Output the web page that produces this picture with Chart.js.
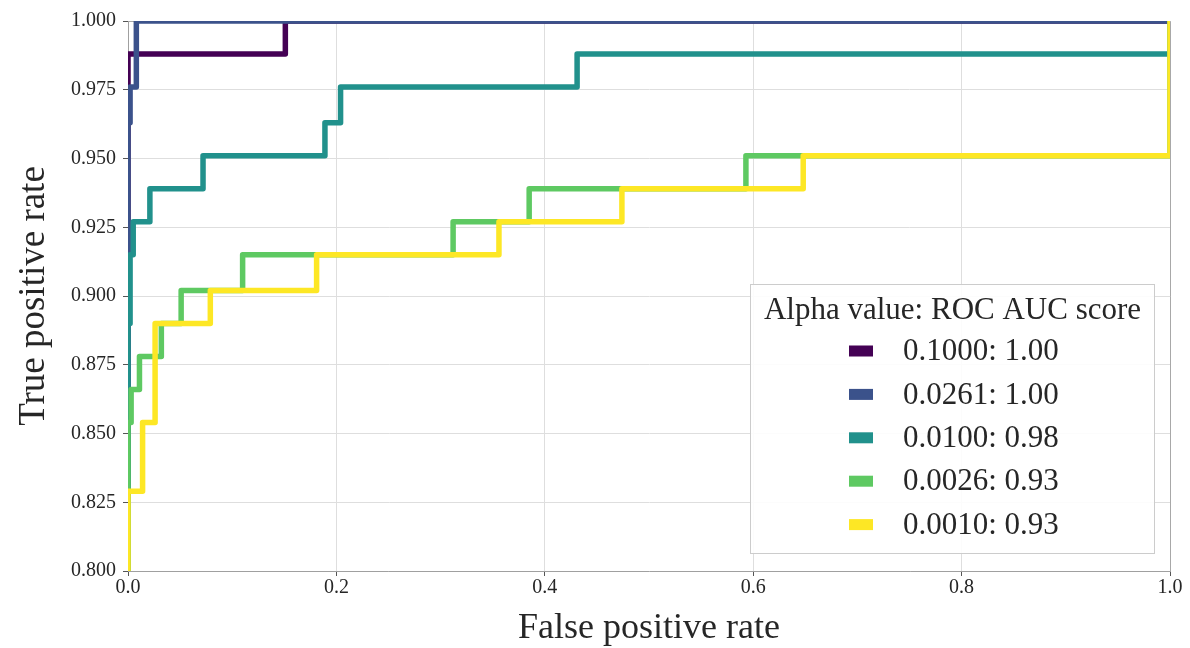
<!DOCTYPE html>
<html>
<head>
<meta charset="utf-8">
<script src="https://cdn.jsdelivr.net/npm/chart.js@4.4.1/dist/chart.umd.min.js"></script>
<style>
  html, body { margin: 0; padding: 0; background: #ffffff; }
  #wrap { width: 1190px; height: 648px; position: relative; }
</style>
</head>
<body>
<div id="wrap"><canvas id="c" width="1190" height="648"></canvas></div>
<script>
// ---- data ----
const legendTitle = 'Alpha value: ROC AUC score';
const seriesLabels = ['0.1000: 1.00', '0.0261: 1.00', '0.0100: 0.98', '0.0026: 0.93', '0.0010: 0.93'];
const seriesColors = ['#440154', '#3b528b', '#21918c', '#5ec962', '#fde725'];

const fpr_a1000 = [0, 0, 0.151, 0.151, 1];
const tpr_a1000 = [0, 0.988, 0.988, 1, 1];

const fpr_a0261 = [0, 0, 0.002, 0.002, 0.008, 0.008, 1];
const tpr_a0261 = [0, 0.963, 0.963, 0.976, 0.976, 1, 1];

const fpr_a0100 = [0, 0, 0.002, 0.002, 0.005, 0.005, 0.021, 0.021, 0.072, 0.072, 0.189, 0.189, 0.204, 0.204, 0.431, 0.431, 1, 1];
const tpr_a0100 = [0, 0.890, 0.890, 0.915, 0.915, 0.927, 0.927, 0.939, 0.939, 0.951, 0.951, 0.963, 0.963, 0.976, 0.976, 0.988, 0.988, 1];

const fpr_a0026 = [0, 0, 0.003, 0.003, 0.011, 0.011, 0.032, 0.032, 0.051, 0.051, 0.110, 0.110, 0.312, 0.312, 0.385, 0.385, 0.593, 0.593, 1, 1];
const tpr_a0026 = [0, 0.854, 0.854, 0.866, 0.866, 0.878, 0.878, 0.890, 0.890, 0.902, 0.902, 0.915, 0.915, 0.927, 0.927, 0.939, 0.939, 0.951, 0.951, 1];

const fpr_a0010 = [0, 0, 0.014, 0.014, 0.026, 0.026, 0.079, 0.079, 0.181, 0.181, 0.356, 0.356, 0.474, 0.474, 0.648, 0.648, 1, 1];
const tpr_a0010 = [0, 0.829, 0.829, 0.854, 0.854, 0.890, 0.890, 0.902, 0.902, 0.915, 0.915, 0.927, 0.927, 0.939, 0.939, 0.951, 0.951, 1];

const xTickValues = [0.0, 0.2, 0.4, 0.6, 0.8, 1.0];
const yTickValues = [0.800, 0.825, 0.850, 0.875, 0.900, 0.925, 0.950, 0.975, 1.000];
const xTitle = 'False positive rate';
const yTitle = 'True positive rate';

// ---- chart ----
const FONT = "'Liberation Serif', 'Times New Roman', serif";
const TEXT = '#262626';
const fprs = [fpr_a1000, fpr_a0261, fpr_a0100, fpr_a0026, fpr_a0010];
const tprs = [tpr_a1000, tpr_a0261, tpr_a0100, tpr_a0026, tpr_a0010];

const datasets = seriesLabels.map((lab, i) => ({
  label: lab,
  data: fprs[i].map((x, k) => ({ x: x, y: tprs[i][k] })),
  borderColor: seriesColors[i],
  backgroundColor: seriesColors[i],
  borderWidth: 5.5,
  pointRadius: 0,
  tension: 0,
  fill: false,
  clip: 0,
  borderJoinStyle: 'round',
  borderCapStyle: 'butt',
  order: seriesLabels.length - i   // later series drawn on top
}));

const spinesPlugin = {
  id: 'spines',
  beforeDatasetsDraw(chart) {
    const { ctx, chartArea: a } = chart;
    ctx.save();
    ctx.strokeStyle = '#a8a8a8';
    ctx.lineWidth = 1;
    ctx.beginPath();
    ctx.moveTo(a.left, a.top + 0.5);
    ctx.lineTo(a.right + 0.5, a.top + 0.5);
    ctx.lineTo(a.right + 0.5, a.bottom);
    ctx.stroke();
    ctx.restore();
  }
};

const legendPlugin = {
  id: 'rocLegend',
  afterDatasetsDraw(chart) {
    const ctx = chart.ctx;
    const bx = 750.5, by = 284.5, bw = 404, bh = 269;
    ctx.save();
    ctx.fillStyle = 'rgba(255,255,255,0.9)';
    ctx.fillRect(bx, by, bw, bh);
    ctx.strokeStyle = '#cccccc';
    ctx.lineWidth = 1;
    ctx.strokeRect(bx, by, bw, bh);
    ctx.fillStyle = TEXT;
    ctx.font = '31px ' + FONT;
    ctx.textAlign = 'center';
    ctx.textBaseline = 'middle';
    ctx.fillText(legendTitle, bx + bw / 2, 311);
    const y0 = 351, dy = 43.4;
    seriesLabels.forEach((lab, i) => {
      const cy = y0 + i * dy;
      ctx.fillStyle = seriesColors[i];
      ctx.fillRect(849, cy - 5.5, 24, 11);
      ctx.fillStyle = TEXT;
      ctx.textAlign = 'left';
      ctx.fillText(lab, 903, cy + 1);
    });
    ctx.restore();
  }
};

new Chart(document.getElementById('c'), {
  type: 'line',
  data: { datasets: datasets },
  options: {
    responsive: false,
    animation: false,
    devicePixelRatio: 1,
    parsing: true,
    layout: { padding: { top: 21, right: 20, left: 0, bottom: 0 } },
    plugins: { legend: { display: false }, tooltip: { enabled: false } },
    scales: {
      x: {
        type: 'linear',
        min: 0, max: 1,
        afterFit(s) { s.height = 77; },
        afterBuildTicks(s) { s.ticks = xTickValues.map(v => ({ value: v })); },
        ticks: {
          callback: v => v.toFixed(1),
          font: { family: FONT, size: 20 },
          color: TEXT,
          padding: 0,
          maxRotation: 0,
          autoSkip: false
        },
        grid: { color: '#dedede', lineWidth: 1, tickLength: 5, tickColor: '#555555', drawTicks: true },
        border: { color: '#a0a0a0', width: 1 },
        title: {
          display: true, text: xTitle, color: TEXT,
          font: { family: FONT, size: 36, lineHeight: 1.1 },
          padding: { top: 0, bottom: 0 }
        }
      },
      y: {
        type: 'linear',
        min: 0.8, max: 1.0,
        afterFit(s) { s.width = 128; },
        afterBuildTicks(s) { s.ticks = yTickValues.map(v => ({ value: v })); },
        ticks: {
          callback: v => v.toFixed(3),
          font: { family: FONT, size: 20 },
          color: TEXT,
          padding: 7,
          autoSkip: false
        },
        grid: { color: '#dedede', lineWidth: 1, tickLength: 5, tickColor: '#555555', drawTicks: true },
        border: { color: '#a0a0a0', width: 1 },
        title: {
          display: true, text: yTitle, color: TEXT,
          font: { family: FONT, size: 37, lineHeight: 1.2 },
          padding: { top: 12, bottom: 0 }
        }
      }
    }
  },
  plugins: [spinesPlugin, legendPlugin]
});
</script>
</body>
</html>
